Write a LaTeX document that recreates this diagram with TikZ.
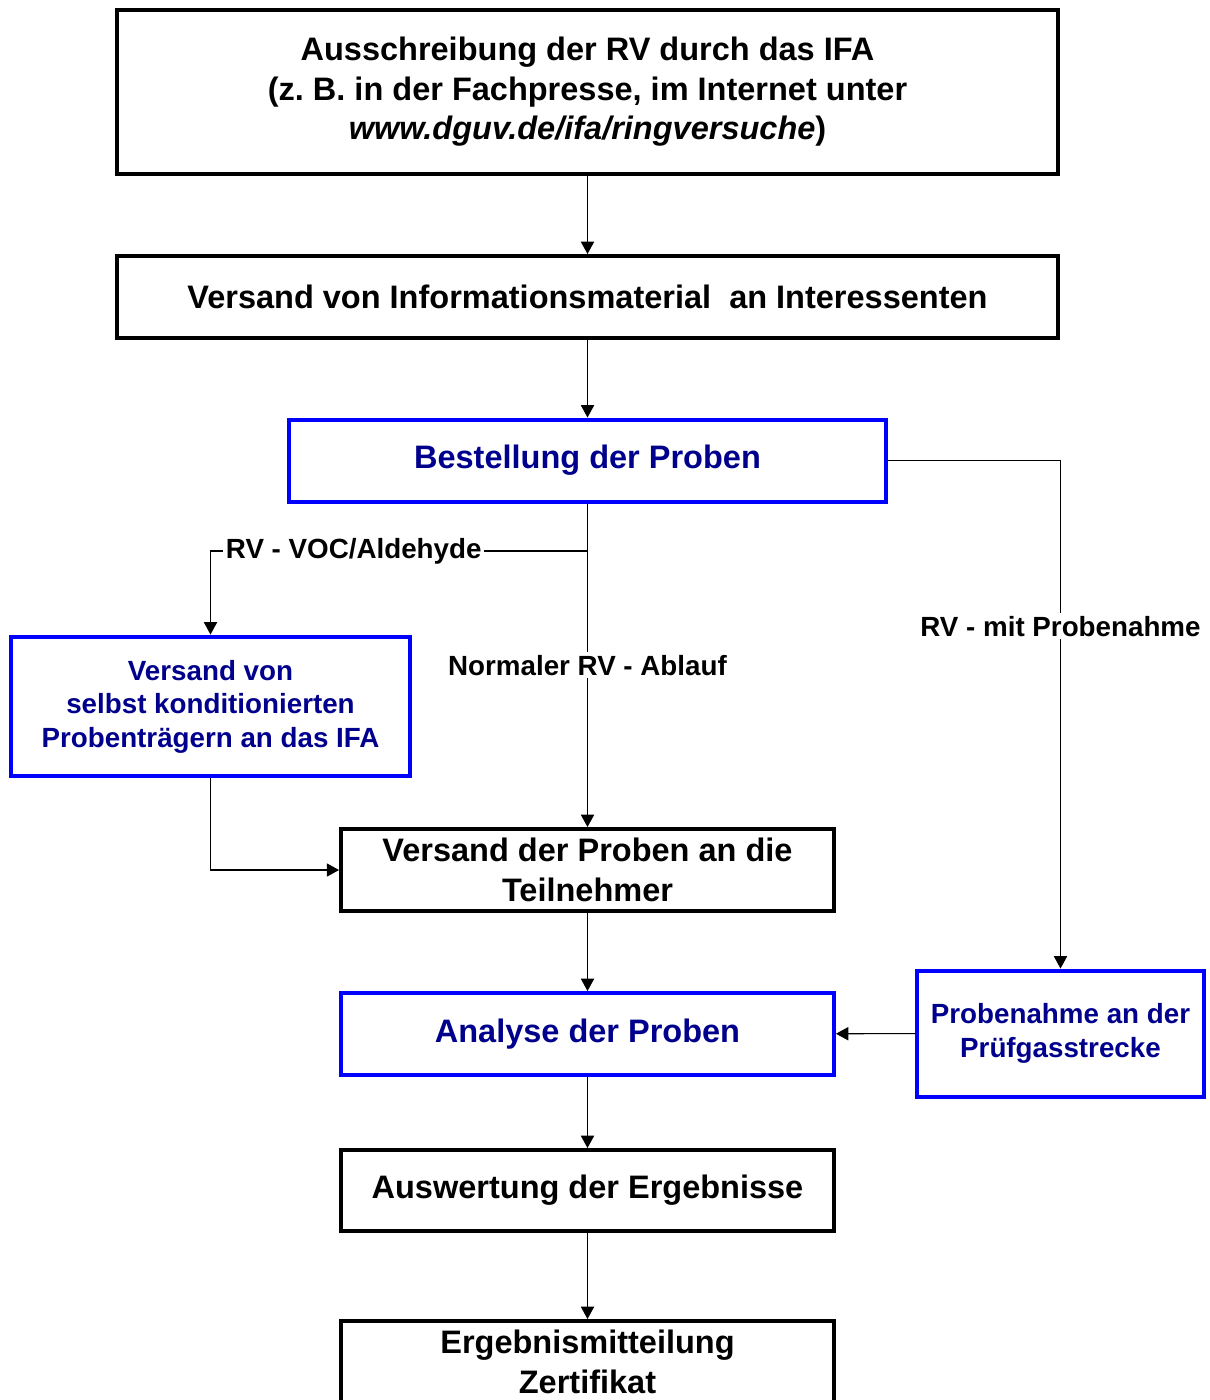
\documentclass[tikz,border=0pt]{standalone}
\usepackage{fontspec}
\setmainfont{Liberation Sans}
\usepackage{tikz}
\usetikzlibrary{arrows.meta}
\definecolor{ifanavy}{RGB}{0,0,140}
\definecolor{ifablue}{RGB}{0,0,255}
\tikzset{
	box/.style={draw=black, line width=0.08cm, align=center, inner sep=2pt,
		font=\fontsize{18.5}{22.5}\selectfont\bfseries},
	bluebox/.style={box, draw=ifablue, text=ifanavy},
	smallbox/.style={bluebox, font=\fontsize{15.8}{19}\selectfont\bfseries},
	arr/.style={line width=0.6pt, -{Triangle[width=7.5pt,length=7pt]}},
	lbl/.style={fill=white, inner sep=1.5pt, font=\fontsize{15.8}{19}\selectfont\bfseries}
}

\begin{document}
\begin{tikzpicture}[x=0.02cm,y=-0.02cm]
	% page
	\useasboundingbox (0,0) rectangle (1210,1400);
	
	% boxes
	\node[box, minimum width=18.82cm, minimum height=3.28cm] (aus) at (587.5,92)
		{Ausschreibung der RV durch das IFA\\(z.~B. in der Fachpresse, im Internet unter\\\textit{www.dguv.de/ifa/ringversuche})};
	\node[box, minimum width=18.82cm, minimum height=1.64cm] (info) at (587.5,297)
		{Versand von Informationsmaterial~ an Interessenten};
	\node[bluebox, minimum width=11.94cm, minimum height=1.64cm] (best) at (587.5,460.5)
		{Bestellung der Proben};
	\node[smallbox, minimum width=7.98cm, minimum height=2.8cm] (selbst) at (210.5,706.5)
		{Versand von\\selbst konditionierten\\Probentr\"agern an das IFA};
	\node[box, minimum width=9.86cm, minimum height=1.64cm] (vers) at (587.5,870)
		{Versand der Proben an die\\Teilnehmer};
	\node[bluebox, minimum width=9.86cm, minimum height=1.64cm] (analyse) at (587.5,1034)
		{Analyse der Proben};
	\node[smallbox, minimum width=5.74cm, minimum height=2.52cm] (probe) at (1060.5,1033.5)
		{Probenahme an der\\Pr\"ufgasstrecke};
	\node[box, minimum width=9.86cm, minimum height=1.62cm] (ausw) at (587.5,1190.5)
		{Auswertung der Ergebnisse};
	\node[box, minimum width=9.86cm, minimum height=1.64cm] (erg) at (587.5,1362)
		{Ergebnismitteilung\\Zertifikat};
	
	% main line
	\draw[arr] (aus) -- (info);
	\draw[arr] (info) -- (best);
	\draw[arr] (best) -- node[lbl] {Normaler RV - Ablauf} (vers);
	\draw[arr] (vers) -- (analyse);
	\draw[arr] (analyse) -- (ausw);
	\draw[arr] (ausw) -- (erg);
	
	% VOC/Aldehyde
	\coordinate (split) at (587.5,551);
	\draw[arr] (split) -| node[lbl, pos=0.31] {RV - VOC/Aldehyde} (selbst);
	\draw[arr] (selbst) |- (vers);
	
	% mit Probenahme
	\draw[arr] (best) -| node[lbl, pos=0.663] {RV - mit Probenahme} (probe);
	\draw[arr] (probe) -- (analyse);
\end{tikzpicture}
\end{document}
